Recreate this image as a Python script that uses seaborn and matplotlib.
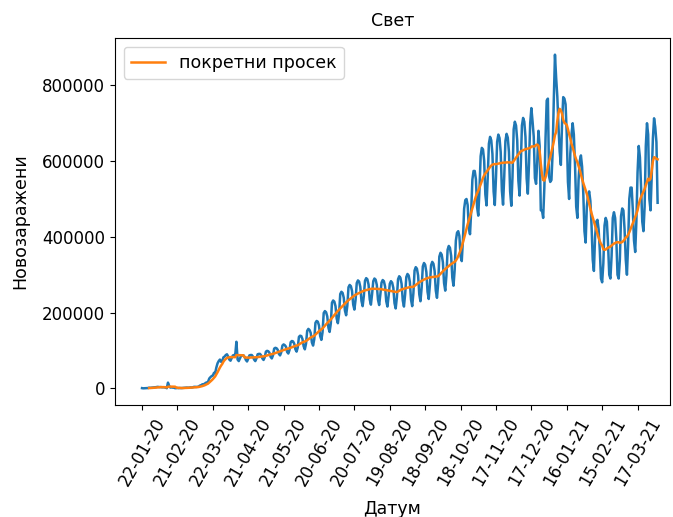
import matplotlib
matplotlib.use("Agg")
import matplotlib.pyplot as plt
import numpy as np
import pandas as pd
import seaborn as sns

# Daily new cases worldwide, in thousands, one row per week (weeks start on Wednesday)
first_day = "2020-01-22"
daily_new_k = [
    0.6, 0.1, 0.3, 0.5, 0.7, 0.8, 1.8,          # 22 Jan 2020
    1.5, 1.8, 2.1, 2.6, 2.8, 3.2, 3.9,
    3.7, 3.2, 3.4, 2.7, 3.0, 2.6, 2.0,
    0.4, 15.1, 6.5, 2.1, 2.6, 2.0, 1.9,
    0.5, 0.6, 1.0, 0.6, 1.0, 0.7, 1.0,
    1.1, 1.4, 1.8, 2.1, 1.8, 2.0, 2.5,
    2.3, 2.8, 3.9, 4.0, 3.7, 4.0, 4.4,          # 4 Mar
    7.3, 6.8, 10.6, 10.9, 11.9, 14.7, 15.6,
    17.6, 26.0, 29.5, 32.4, 33.5, 41.0, 40.4,
    55, 66, 72, 76, 70, 72, 82,
    84, 88, 90, 84, 76, 73, 80,                 # 1 Apr
    87, 88, 88, 123, 76, 72, 79,
    86, 87, 87, 83, 75, 71, 78,
    87, 88, 88, 84, 76, 72, 79,
    90, 91, 91, 87, 79, 75, 82,
    97, 99, 98, 94, 83, 79, 87,                 # 6 May
    105, 107, 106, 102, 91, 87, 95,
    113, 116, 114, 110, 96, 92, 101,
    122, 125, 124, 118, 103, 97, 108,
    136, 139, 138, 130, 111, 103, 118,          # 3 Jun
    152, 157, 154, 146, 121, 113, 130,
    173, 178, 176, 166, 138, 128, 148,
    199, 204, 201, 190, 160, 149, 171,
    226, 232, 229, 217, 184, 172, 196,          # 1 Jul
    249, 255, 252, 239, 205, 193, 218,
    267, 273, 270, 257, 221, 208, 234,
    278, 285, 282, 268, 231, 217, 244,
    284, 291, 288, 274, 235, 221, 249,
    283, 290, 287, 273, 234, 220, 248,          # 5 Aug
    279, 286, 283, 269, 230, 216, 244,
    276, 283, 279, 265, 225, 211, 240,
    288, 296, 292, 276, 232, 216, 248,
    294, 302, 298, 281, 234, 217, 251,          # 2 Sep
    311, 320, 316, 298, 248, 230, 266,
    322, 331, 326, 307, 255, 236, 274,
    325, 334, 329, 310, 258, 239, 277,
    348, 358, 353, 333, 278, 258, 298,          # 30 Sep
    366, 376, 371, 350, 292, 271, 313,
    390, 411, 415, 402, 349, 336, 392,
    474, 497, 500, 484, 423, 407, 469,
    551, 574, 574, 552, 478, 456, 524,
    613, 635, 631, 601, 512, 483, 556,          # 4 Nov
    646, 664, 655, 619, 520, 484, 556,
    651, 670, 661, 624, 522, 485, 559,
    653, 672, 662, 624, 520, 482, 558,
    684, 704, 694, 655, 548, 509, 587,          # 2 Dec
    694, 714, 704, 664, 554, 514, 594,
    700, 740, 705, 665, 555, 540, 600,
    680, 640, 470, 470, 450, 530, 660,
    760, 765, 560, 545, 550, 620, 760,
    881, 820, 770, 690, 625, 590, 700,          # 6 Jan 2021
    769, 765, 750, 670, 545, 500, 620,
    670, 700, 670, 590, 480, 450, 550,
    600, 615, 585, 515, 415, 385, 480,
    510, 520, 495, 430, 340, 310, 400,          # 3 Feb
    440, 445, 420, 365, 290, 280, 330,
    430, 450, 440, 380, 300, 290, 350,
    450, 465, 450, 395, 300, 290, 340,
    455, 475, 470, 420, 340, 300, 380,          # 3 Mar
    500, 530, 530, 470, 390, 360, 440,
    570, 640, 610, 530, 440, 415, 480,
    640, 700, 670, 500, 470, 560, 660,
    713, 690, 650, 490,                         # 31 Mar
]

tick_labels = ["22-01-20", "21-02-20", "22-03-20", "21-04-20", "21-05-20",
               "20-06-20", "20-07-20", "19-08-20", "18-09-20", "18-10-20",
               "17-11-20", "17-12-20", "16-01-21", "15-02-21", "17-03-21"]

title = "Свет"
x_label = "Датум"
y_label = "Новозаражени"
avg_label = "покретни просек"

df = pd.DataFrame({
    "date": pd.date_range(first_day, periods=len(daily_new_k), freq="D"),
    "cases": np.array(daily_new_k) * 1000.0,
})
df["avg"] = df["cases"].rolling(7).mean()

fig = plt.figure(figsize=(6.73, 5.17), dpi=100)
ax = fig.add_subplot(111)
fig.subplots_adjust(left=115 / 673, right=670 / 673,
                    bottom=(517 - 405) / 517, top=(517 - 38) / 517)

sns.lineplot(data=df, x="date", y="cases", color="C0", linewidth=1.8, ax=ax)
sns.lineplot(data=df, x="date", y="avg", color="C1", linewidth=1.8,
             label=avg_label, ax=ax)

start = pd.Timestamp(first_day)
ax.set_xlim(start - pd.Timedelta(days=22.9), start + pd.Timedelta(days=447.5))

tick_dates = pd.to_datetime(tick_labels, format="%d-%m-%y")
ax.set_xticks(tick_dates)
ax.set_xticklabels(tick_labels, rotation=60)
ax.tick_params(axis="both", labelsize=12)

ax.set_title(title, fontsize=12.5, pad=9)
ax.set_xlabel(x_label, fontsize=12.5, labelpad=8)
ax.set_ylabel(y_label, fontsize=12.5, labelpad=9)
ax.legend(loc="upper left", fontsize=12.5)

fig.savefig("out.png", dpi=100)
